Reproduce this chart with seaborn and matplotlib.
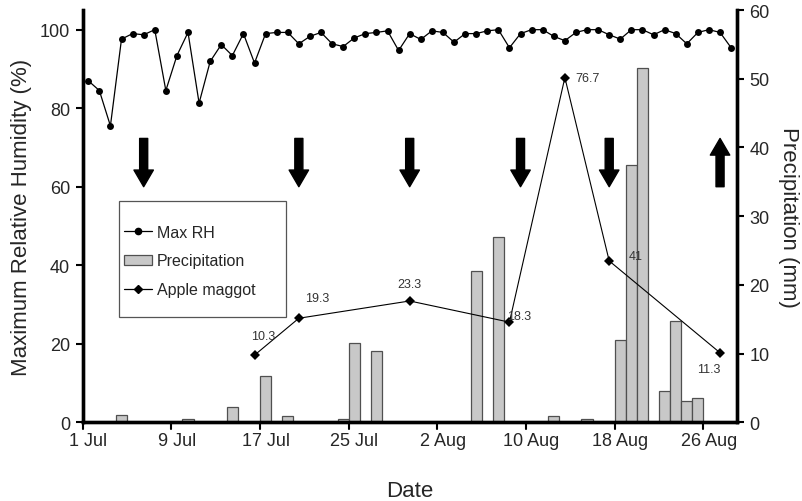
import matplotlib
matplotlib.use("Agg")
import matplotlib.pyplot as plt
import seaborn as sns
import numpy as np
import pandas as pd
from matplotlib.lines import Line2D
from matplotlib.patches import Patch, Rectangle

# ---------------- data ----------------
day_labels = ["1 Jul", "9 Jul", "17 Jul", "25 Jul", "2 Aug", "10 Aug", "18 Aug", "26 Aug"]
label_days = [0, 8, 16, 24, 32, 40, 48, 56]
n_days = 59  # 1 Jul .. 28 Aug

max_rh = [87.0, 84.5, 75.5, 97.6, 99.0, 98.7, 100.0, 84.5, 93.4, 99.3,
          81.3, 91.9, 96.2, 93.4, 99.0, 91.5, 99.0, 99.3, 99.3, 96.4,
          98.3, 99.3, 96.4, 95.7, 97.9, 99.0, 99.3, 99.7, 94.7, 99.0,
          97.5, 99.7, 99.3, 96.8, 99.0, 99.0, 99.7, 100.0, 95.4, 99.0,
          100.0, 100.0, 98.3, 97.2, 99.3, 100.0, 100.0, 98.7, 97.6, 100.0,
          100.0, 98.7, 100.0, 99.0, 96.4, 99.3, 100.0, 99.3, 95.4]

precip = [0, 0, 0, 1.0, 0, 0, 0, 0, 0, 0.5,
          0, 0, 0, 2.2, 0, 0, 6.8, 0, 0.9, 0,
          0, 0, 0, 0.5, 11.5, 0, 10.4, 0, 0, 0,
          0, 0, 0, 0, 0, 22.0, 0, 27.0, 0, 0,
          0, 0, 0.9, 0, 0, 0.5, 0, 0, 12.0, 37.5,
          51.5, 0, 4.6, 14.8, 3.1, 3.5, 0, 0, 0]

maggot_days = [15, 19, 29, 38, 43, 47, 57]
maggot_pos = [17.1, 26.5, 30.9, 25.5, 87.8, 41.1, 17.7]   # plotted height (RH % scale)
maggot_labels = ["10.3", "19.3", "23.3", "18.3", "76.7", "41", "11.3"]

arrow_days = [5, 19, 29, 39, 47, 57]
arrow_dirs = ["down", "down", "down", "down", "down", "up"]

days = list(range(n_days))
df_rh = pd.DataFrame({"day": days, "rh": max_rh})
df_p = pd.DataFrame({"day": days, "precip": precip})

# ---------------- figure ----------------
sns.set_style("white")
plt.rcParams["font.family"] = ["Liberation Sans", "DejaVu Sans"]

fig = plt.figure(figsize=(8.03, 5.02), dpi=100)
ax = fig.add_axes([0.103, 0.1568, 0.8144, 0.8212])
ax2 = ax.twinx()

# precipitation bars on right axis
nz = df_p[df_p.precip > 0]
ax2.bar(nz.day, nz.precip, width=1.0, color="#c8c8c8", edgecolor="#505050",
        linewidth=0.9, zorder=2)
ax2.set_ylim(0, 60)
ax2.set_yticks([0, 10, 20, 30, 40, 50, 60])

ax.set_zorder(ax2.get_zorder() + 1)
ax.patch.set_visible(False)

# Max RH line
sns.lineplot(data=df_rh, x="day", y="rh", ax=ax, color="black", linewidth=0.9,
             marker="o", markersize=5, markeredgewidth=0, legend=False)

# Apple maggot line
ax.plot(maggot_days, maggot_pos, color="black", linewidth=0.8, marker="D",
        markersize=5, markeredgewidth=0)
offsets = [(9, 19), (18, 20), (0, 17), (10, 6), (23, 0), (26, 5), (-11, -16)]
for d, p, lab, off in zip(maggot_days, maggot_pos, maggot_labels, offsets):
    ax.annotate(lab, (d, p), xytext=off, textcoords="offset pixels",
                ha="center", va="center", fontsize=9, color="#333333")

# arrows
for d, direc in zip(arrow_days, arrow_dirs):
    top, bot = 72.3, 60.0
    if direc == "down":
        start, end = (d, top), (d, bot)
    else:
        start, end = (d, bot), (d, top)
    ax.annotate("", xy=end, xytext=start,
                arrowprops=dict(arrowstyle="simple,head_length=12,head_width=14,tail_width=5.8",
                                mutation_scale=1, color="black", shrinkA=0, shrinkB=0))

# axes limits and ticks
ax.set_xlim(-0.5, n_days - 0.5)
ax.set_ylim(0, 105)
ax.set_yticks([0, 20, 40, 60, 80, 100])
ax.set_xticks(label_days)
ax.set_xticklabels(day_labels)
ax.set_xticks(np.arange(-0.5, n_days, 1.0), minor=True)
ax.tick_params(axis="x", which="major", length=0, pad=7, labelsize=13)
ax.tick_params(axis="x", which="minor", length=4, width=1.5, color="black", direction="out")
ax.tick_params(axis="y", length=5, width=1.5, labelsize=13, color="black", direction="out", pad=4)
ax2.tick_params(axis="y", length=5, width=1.5, labelsize=13, color="black", direction="out", pad=4)

# major tick marks at labelled boundaries (longer)
for d in label_days:
    ax.plot([d - 0.5, d - 0.5], [0, -1.8], color="black", linewidth=1.5, clip_on=False, zorder=5)

for a in (ax, ax2):
    a.spines["top"].set_visible(False)
    for s in ("left", "right", "bottom"):
        a.spines[s].set_linewidth(2.4)
        a.spines[s].set_color("black")
    a.grid(False)

ax.set_xlabel("Date", fontsize=16, labelpad=22)
ax.set_ylabel("Maximum Relative Humidity (%)", fontsize=16, labelpad=6)
ax2.set_ylabel("Precipitation (mm)", fontsize=16, rotation=270, labelpad=21)

# legend (frame drawn separately)
ax.add_patch(Rectangle((0.0555, 0.2554), 0.2553, 0.2821, transform=ax.transAxes,
                       facecolor="white", edgecolor="#555555", linewidth=0.9, zorder=6))
handles = [
    Line2D([], [], color="black", linewidth=0.9, marker="o", markersize=4.5),
    Patch(facecolor="#c8c8c8", edgecolor="#505050", linewidth=0.9),
    Line2D([], [], color="black", linewidth=0.9, marker="D", markersize=4.5),
]
leg = ax.legend(handles, ["Max RH", "Precipitation", "Apple maggot"],
                loc="upper left", bbox_to_anchor=(0.0534, 0.4947), borderaxespad=0,
                fontsize=11.5, frameon=False, handlelength=1.75, handleheight=0.6,
                labelspacing=0.85, borderpad=0.4, handletextpad=0.3)
leg.set_zorder(7)

fig.savefig("out.png", dpi=100)
